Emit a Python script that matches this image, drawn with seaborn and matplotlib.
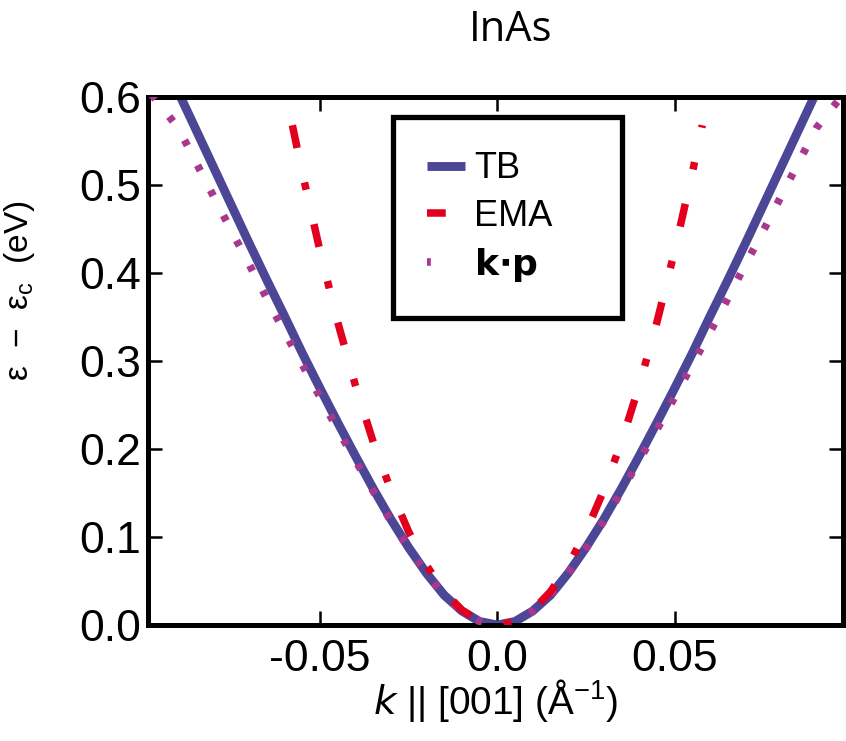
import numpy as np
import pandas as pd
import matplotlib
matplotlib.use("Agg")
import matplotlib.pyplot as plt
import seaborn as sns
from matplotlib.lines import Line2D

# ---- data ----
k_tb = [-0.0900, -0.085, -0.08, -0.075, -0.07, -0.065, -0.06, -0.055, -0.05, -0.045,
        -0.04, -0.035, -0.03, -0.025, -0.02, -0.015, -0.01, -0.005, 0.0,
        0.005, 0.01, 0.015, 0.02, 0.025, 0.03, 0.035, 0.04, 0.045,
        0.05, 0.055, 0.06, 0.065, 0.07, 0.075, 0.08, 0.085, 0.0900]
e_tb = [0.606, 0.563, 0.520, 0.477, 0.434, 0.392, 0.351, 0.309, 0.269, 0.230,
        0.192, 0.155, 0.120, 0.088, 0.059, 0.034, 0.016, 0.004, 0.0,
        0.004, 0.016, 0.034, 0.059, 0.088, 0.120, 0.155, 0.192, 0.230,
        0.269, 0.309, 0.351, 0.392, 0.434, 0.477, 0.520, 0.563, 0.606]

k_ema = [-0.0578, -0.055, -0.05, -0.045, -0.04, -0.035, -0.03, -0.025, -0.02, -0.015,
         -0.01, -0.005, 0.0, 0.005, 0.01, 0.015, 0.02, 0.025, 0.03, 0.035,
         0.04, 0.045, 0.05, 0.055, 0.0578]
e_ema = [0.568, 0.514, 0.425, 0.344, 0.272, 0.208, 0.153, 0.106, 0.068, 0.038,
         0.017, 0.004, 0.0, 0.004, 0.017, 0.038, 0.068, 0.106, 0.153, 0.208,
         0.272, 0.344, 0.425, 0.514, 0.568]

k_kp = [-0.0975, -0.09, -0.085, -0.08, -0.075, -0.07, -0.065, -0.06, -0.055, -0.05,
        -0.045, -0.04, -0.035, -0.03, -0.025, -0.02, -0.015, -0.01, -0.005, 0.0,
        0.005, 0.01, 0.015, 0.02, 0.025, 0.03, 0.035, 0.04, 0.045, 0.05,
        0.055, 0.06, 0.065, 0.07, 0.075, 0.08, 0.085, 0.09, 0.0975]
e_kp = [0.603, 0.565, 0.526, 0.487, 0.448, 0.410, 0.371, 0.333, 0.296, 0.259,
        0.222, 0.187, 0.152, 0.118, 0.087, 0.059, 0.034, 0.016, 0.004, 0.0,
        0.004, 0.016, 0.034, 0.059, 0.087, 0.118, 0.152, 0.187, 0.222, 0.259,
        0.296, 0.333, 0.371, 0.410, 0.448, 0.487, 0.526, 0.565, 0.603]

series_names = ["TB", "EMA", "k·p"]
x_ticks = [-0.05, 0.0, 0.05]
x_tick_labels = ["-0.05", "0.0", "0.05"]
y_ticks = [0.0, 0.1, 0.2, 0.3, 0.4, 0.5, 0.6]

sns.set_style("ticks")
plt.rcParams["font.family"] = ["Liberation Sans", "DejaVu Sans"]
plt.rcParams["text.color"] = "black"
plt.rcParams["axes.labelcolor"] = "black"

fig = plt.figure(figsize=(8.46, 7.41), dpi=100)
ax = fig.add_axes([0.175, 0.1565, 0.8215, 0.7125])

c_tb = "#4b4696"
c_ema = "#e3001f"
c_kp = "#a8388e"

df_tb = pd.DataFrame({"k": k_tb, "E": e_tb})
df_ema = pd.DataFrame({"k": k_ema, "E": e_ema})
df_kp = pd.DataFrame({"k": k_kp, "E": e_kp})

ema_ls = (0, (3.1, 4.7, 1.0, 4.7))
kp_ls = (0, (0.8, 2.9))

sns.lineplot(data=df_tb, x="k", y="E", ax=ax, color=c_tb, lw=6.4,
             estimator=None, sort=False, zorder=2, solid_capstyle="butt")
sns.lineplot(data=df_kp, x="k", y="E", ax=ax, color=c_kp, lw=5.5,
             estimator=None, sort=False, zorder=3,
             linestyle=kp_ls, dash_capstyle="butt")
sns.lineplot(data=df_ema, x="k", y="E", ax=ax, color=c_ema, lw=5.4,
             estimator=None, sort=False, zorder=4,
             linestyle=ema_ls, dash_capstyle="butt")

ax.set_xlim(-0.0985, 0.0975)
ax.set_ylim(0.0, 0.6)
ax.set_xticks(x_ticks)
ax.set_xticklabels(x_tick_labels)
ax.set_yticks(y_ticks)
ax.set_yticklabels([f"{v:.1f}" for v in y_ticks])

for s in ax.spines.values():
    s.set_visible(True)
    s.set_linewidth(3.6)
    s.set_color("black")
ax.tick_params(axis="both", direction="in", length=10, width=1.8,
               labelsize=32, top=True, right=True, colors="black")
ax.tick_params(axis="y", pad=5)
ax.tick_params(axis="x", pad=10)

ax.set_xlabel("$k$ || [001] (Å$^{\\mathregular{-1}}$)", fontsize=28, labelpad=-2)
ax.set_ylabel("ε  −  ε$_{\\mathregular{c}}$  (eV)", fontsize=24)
ax.yaxis.set_label_coords(-0.16, 0.634)

handles = [
    Line2D([0], [0], color=c_tb, lw=6.4, solid_capstyle="butt"),
    Line2D([0], [0], color=c_ema, lw=5.4, linestyle=(0.6, (3.1, 4.7, 1.0, 4.7)), dash_capstyle="butt"),
    Line2D([0], [0], color=c_kp, lw=5.5, linestyle=(0.3, (0.8, 9)), dash_capstyle="butt"),
]
labels = ["TB", "EMA", r"$\mathbf{k{\cdot}p}$"]
leg = ax.legend(handles, labels, loc="upper left", mode="expand",
                bbox_to_anchor=(0.3525, 0.0, 0.3295, 0.962),
                fontsize=26, frameon=True, fancybox=False, framealpha=1,
                handlelength=1.05, handletextpad=0.25, borderpad=0.95,
                labelspacing=0.34, borderaxespad=0.0)
leg.get_frame().set_edgecolor("black")
leg.get_frame().set_linewidth(3.8)
leg.get_frame().set_facecolor("white")

fig.text(0.603, 0.960, "InAs", ha="center", va="center", fontsize=30,
         family=["Open Sans", "DejaVu Sans"])

fig.savefig("out.png", dpi=100)
